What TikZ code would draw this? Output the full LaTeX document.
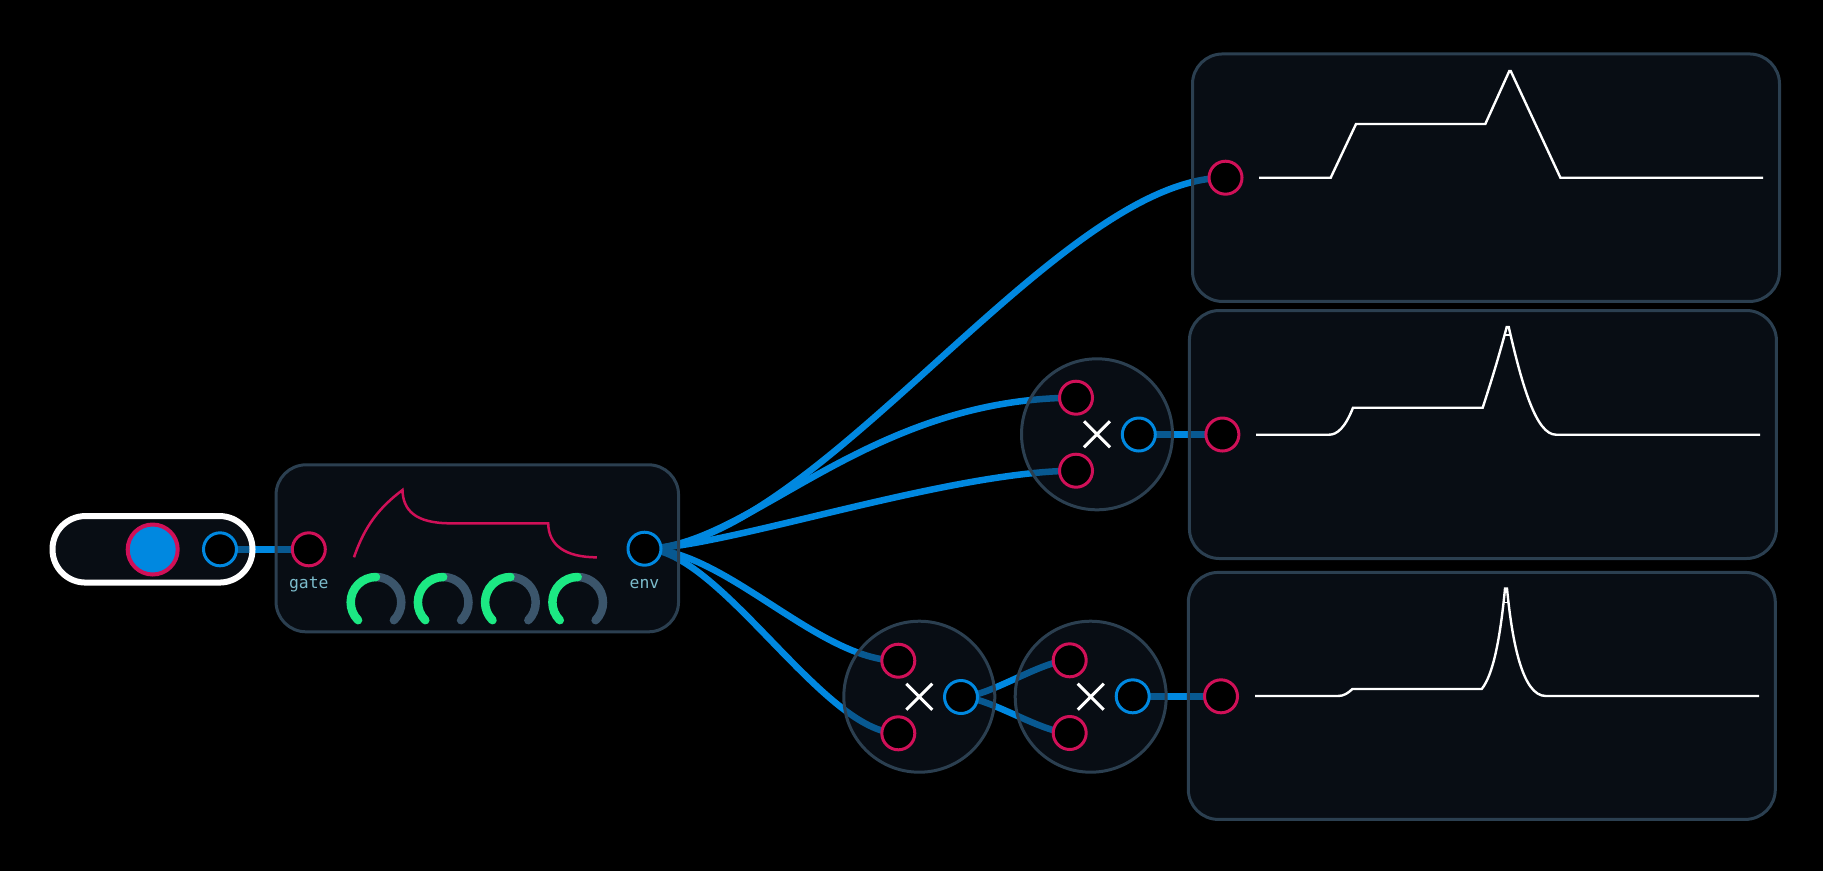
\documentclass[tikz,border=0pt]{standalone}
\usepackage{fontspec}
\setmonofont{DejaVu Sans Mono}
\usetikzlibrary{shapes.misc}
\pgfdeclarelayer{wires}
\pgfdeclarelayer{panels}
\pgfsetlayers{wires,panels,main}
\definecolor{edgec}{HTML}{2B3F50}
\definecolor{panelc}{HTML}{131F2E}
\definecolor{wirec}{HTML}{0088E0}
\definecolor{pinkc}{HTML}{D01058}
\definecolor{greenc}{HTML}{1CE983}
\definecolor{trackc}{HTML}{3B556B}
\definecolor{labelc}{HTML}{7CBCCC}
\tikzset{
  panel/.style={draw=edgec,line width=3pt,fill=panelc,fill opacity=0.44,inner sep=0pt,rounded corners=30pt},
  inport/.style={circle,draw=pinkc,fill=black,line width=3pt,minimum size=33pt,inner sep=0pt},
  outport/.style={circle,draw=wirec,fill=black,line width=3pt,minimum size=33pt,inner sep=0pt},
  mulbody/.style={circle,draw=edgec,line width=3pt,fill=panelc,fill opacity=0.44,minimum size=151pt,inner sep=0pt},
  mulmark/.style={cross out,draw=white,line width=3pt,minimum size=23pt,inner sep=0pt},
  wire/.style={draw=wirec,line width=6.5pt},
  trace/.style={draw=white,line width=2.4pt},
  portlabel/.style={text=labelc,font=\ttfamily\fontsize{16.4}{18}\selectfont,inner sep=0pt},
}
\begin{document}
\begin{tikzpicture}[x=1pt,y=-1pt]
    \useasboundingbox (0,0) rectangle (1823,871);
    % ports
    \node[circle,draw=pinkc,fill=wirec,line width=4pt,minimum size=50pt,inner sep=0pt] (toggle) at (152.7,549.5) {};
    \node[outport] (trig) at (220,549.3) {};
    \node[inport] (gate) at (308.8,549.3) {};
    \node[outport] (env) at (644.5,548.7) {};
    \node[inport] (scopeAin) at (1225.5,177.7) {};
    \node[inport] (scopeBin) at (1222.4,434.5) {};
    \node[inport] (scopeCin) at (1221,696.3) {};
    \node[inport] (mulAa) at (1076,397.7) {};
    \node[inport] (mulAb) at (1076,470.7) {};
    \node[outport] (mulAout) at (1138.8,434.5) {};
    \node[inport] (mulBa) at (898.3,660.7) {};
    \node[inport] (mulBb) at (898.3,733.3) {};
    \node[outport] (mulBout) at (961,697) {};
    \node[inport] (mulCa) at (1069.7,660.3) {};
    \node[inport] (mulCb) at (1069.7,733) {};
    \node[outport] (mulCout) at (1132.7,696.3) {};
    \node[portlabel] (gatetext) at (308.8,584) {gate};
    \node[portlabel] (envtext) at (644.5,584) {env};
    \node[mulmark] (markA) at (1097,434.3) {};
    \node[mulmark] (markB) at (919.3,696.7) {};
    \node[mulmark] (markC) at (1090.7,696.7) {};
    \begin{pgfonlayer}{wires}
      \fill[black] (0,0) rectangle (1823,871);
      \draw[wire] (trig.center) -- (gate.center);
      \draw[wire] (env.center) .. controls +(170,0) and +(-170,0) .. (scopeAin.center);
      \draw[wire] (env.center) .. controls +(103,0) and +(-211,0) .. (mulAa.center);
      \draw[wire] (env.center) .. controls +(78,0) and +(-127,0) .. (mulAb.center);
      \draw[wire] (env.center) .. controls +(80,0) and +(-80,0) .. (mulBa.center);
      \draw[wire] (env.center) .. controls +(75,0) and +(-75,0) .. (mulBb.center);
      \draw[wire] (mulAout.center) -- (scopeBin.center);
      \draw[wire] (mulBout.center) .. controls +(28,0) and +(-28,0) .. (mulCa.center);
      \draw[wire] (mulBout.center) .. controls +(28,0) and +(-28,0) .. (mulCb.center);
      \draw[wire] (mulCout.center) -- (scopeCin.center);
    \end{pgfonlayer}
    \begin{pgfonlayer}{panels}
      \node[panel,draw=white,line width=6pt,rounded corners=33pt,minimum width=200pt,minimum height=66.5pt] (pill) at (152.5,549.3) {};
      \node[panel,minimum width=402.5pt,minimum height=167pt] (adsr) at (477.3,548.3) {};
      \node[panel,minimum width=587pt,minimum height=247.5pt] (scopeA) at (1486,177.7) {};
      \node[panel,minimum width=587pt,minimum height=248pt] (scopeB) at (1482.9,434.5) {};
      \node[panel,minimum width=587pt,minimum height=247pt] (scopeC) at (1481.8,695.9) {};
      \node[mulbody] (mulA) at (1097,434.3) {};
      \node[mulbody] (mulB) at (919.3,696.7) {};
      \node[mulbody] (mulC) at (1090.7,696.7) {};
    \end{pgfonlayer}
    % envelope curve
    \draw[pinkc,line width=2.5pt] (354,557.3) .. controls (365,525) and (380,507) .. (402.5,490)
      .. controls (403,510) and (415,523.3) .. (450.6,523.3) -- (548.2,523.3)
      .. controls (548.5,545) and (565,557.3) .. (596.8,557.3);
    % knobs
    \foreach \k/\x in {1/376,2/443.2,3/510.4,4/577.7} {
      \coordinate (knob\k) at (\x,602.3);
      \draw[trackc,line width=8.5pt,line cap=round] (knob\k) ++(90:25.3pt) arc[start angle=90,end angle=-45,radius=25.3pt];
      \draw[greenc,line width=8.5pt,line cap=round] (knob\k) ++(225:25.3pt) arc[start angle=225,end angle=90,radius=25.3pt];
    }
    % traces
    \draw[trace] (1259,177.7) -- (1330.7,177.7) -- (1356,124) -- (1485.3,124) -- (1509.3,71) -- (1510.7,71) -- (1560.4,177.7) -- (1763,177.7);
    \draw[trace] (1256,434.7) -- (1329,434.7) .. controls (1337,434.7) and (1345,428) .. (1353,407.7) -- (1482.7,407.7)
      .. controls (1490,385) and (1498,360) .. (1506.7,327) -- (1508.7,327)
      .. controls (1522,385) and (1536,434.7) .. (1556,434.7) -- (1760,434.7);
    \draw[trace,line width=1.6pt] (1505.2,335) -- (1510.2,335);
    \draw[trace] (1255,696) -- (1338,696) .. controls (1344,696) and (1348,693) .. (1352.4,689) -- (1481.7,689)
      .. controls (1493,675) and (1500,640) .. (1505,588.6) -- (1507,588.6)
      .. controls (1512,640) and (1522,696) .. (1545.8,696) -- (1759,696);
    \draw[trace,line width=1.6pt] (1503,602.3) -- (1509,602.3);
\end{tikzpicture}
\end{document}
